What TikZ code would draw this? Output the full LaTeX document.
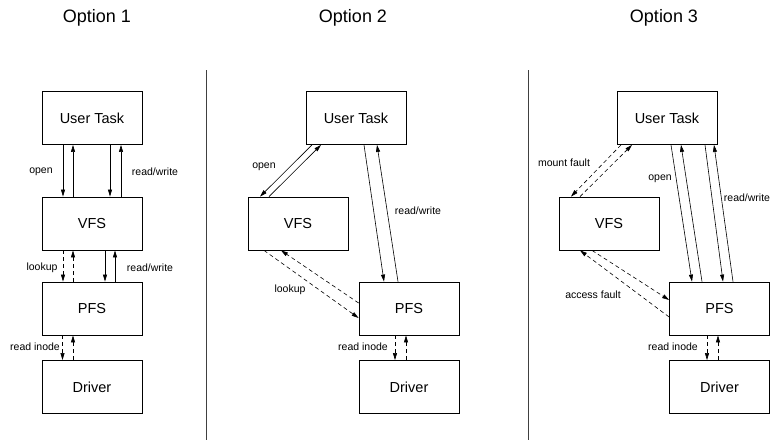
\documentclass[tikz,border=0pt]{standalone}
\usepackage{fontspec}
\setmainfont{Liberation Sans}
\usetikzlibrary{arrows.meta,positioning,calc}

\begin{document}
\begin{tikzpicture}[
    x=1pt, y=-1pt,
    box/.style={rectangle, draw, line width=0.8pt, minimum width=100pt, minimum height=53pt, inner sep=0pt, font=\fontsize{14.5}{16}\selectfont},
    arrow/.style={-{Triangle[length=7pt,width=4pt]}, line width=0.6pt},
    fault/.style={arrow, dash pattern=on 4pt off 3pt},
    lbl/.style={font=\fontsize{10.5}{12}\selectfont},
    title/.style={font=\fontsize{18}{20}\selectfont},
    sep/.style={line width=0.7pt, black!75}
]
    \useasboundingbox (0,0) rectangle (771,440);

    % Option 1
    \node[title] (t1) at (97,18) {Option 1};
    \node[box] (ut1) at (92,118) {User Task};
    \node[box] (vfs1) at (92,223.5) {VFS};
    \node[box] (pfs1) at (92,308.5) {PFS};
    \node[box] (drv1) at (92,387) {Driver};

    \draw[arrow] ([xshift=-29pt]ut1.south) -- ([xshift=-29pt]vfs1.north);
    \draw[arrow] ([xshift=-19pt]vfs1.north) -- ([xshift=-19pt]ut1.south);
    \draw[arrow] ([xshift=18pt]ut1.south) -- ([xshift=18pt]vfs1.north);
    \draw[arrow] ([xshift=29pt]vfs1.north) -- ([xshift=29pt]ut1.south);
    \draw[fault] ([xshift=-29pt]vfs1.south) -- ([xshift=-29pt]pfs1.north);
    \draw[fault] ([xshift=-19pt]pfs1.north) -- ([xshift=-19pt]vfs1.south);
    \draw[arrow] ([xshift=13pt]vfs1.south) -- ([xshift=13pt]pfs1.north);
    \draw[arrow] ([xshift=23pt]pfs1.north) -- ([xshift=23pt]vfs1.south);
    \draw[fault] ([xshift=-29.5pt]pfs1.south) -- ([xshift=-29.5pt]drv1.north);
    \draw[fault] ([xshift=-19pt]drv1.north) -- ([xshift=-19pt]pfs1.south);

    \node[lbl] (open1) at (41,172) {open};
    \node[lbl] (rw1) at (155,172) {read/write};
    \node[lbl] (look1) at (42,268) {lookup};
    \node[lbl] (rw1b) at (150,268) {read/write};
    \node[lbl] (ri1) at (35,347) {read inode};

    % separators
    \draw[sep] (206,70) -- (206,440);
    \draw[sep] (528,70) -- (528,440);

    % Option 2
    \node[title] (t2) at (353,18) {Option 2};
    \node[box] (ut2) at (356,118) {User Task};
    \node[box] (vfs2) at (298,223.5) {VFS};
    \node[box] (pfs2) at (409,308.5) {PFS};
    \node[box] (drv2) at (409,387) {Driver};

    \draw[arrow] ([xshift=-44pt]ut2.south) -- ([xshift=-38pt]vfs2.north);
    \draw[arrow] ([xshift=-29pt]vfs2.north) -- ([xshift=-35pt]ut2.south);
    \draw[arrow] ([xshift=8pt]ut2.south) -- ([xshift=-25pt]pfs2.north);
    \draw[arrow] ([xshift=-11pt]pfs2.north) -- ([xshift=21pt]ut2.south);
    \draw[fault] ([xshift=-34pt]vfs2.south) -- ([yshift=-9.5pt]pfs2.west);
    \draw[fault] ([yshift=5.5pt]pfs2.west) -- ([xshift=-17pt]vfs2.south);
    \draw[fault] ([xshift=-14pt]pfs2.south) -- ([xshift=-14pt]drv2.north);
    \draw[fault] ([xshift=-3pt]drv2.north) -- ([xshift=-3pt]pfs2.south);

    \node[lbl] (open2) at (264,167) {open};
    \node[lbl] (rw2) at (418,211) {read/write};
    \node[lbl] (look2) at (290,290) {lookup};
    \node[lbl] (ri2) at (363,347) {read inode};

    % Option 3
    \node[title] (t3) at (664,18) {Option 3};
    \node[box] (ut3) at (667,118) {User Task};
    \node[box] (vfs3) at (609,223.5) {VFS};
    \node[box] (pfs3) at (719.5,308.5) {PFS};
    \node[box] (drv3) at (719.5,387) {Driver};

    \draw[fault] ([xshift=-46pt]ut3.south) -- ([xshift=-38pt]vfs3.north);
    \draw[fault] ([xshift=-29pt]vfs3.north) -- ([xshift=-35pt]ut3.south);
    \draw[arrow] ([xshift=4pt]ut3.south) -- ([xshift=-27.5pt]pfs3.north);
    \draw[arrow] ([xshift=-17.5pt]pfs3.north) -- ([xshift=14pt]ut3.south);
    \draw[arrow] ([xshift=38pt]ut3.south) -- ([xshift=3.5pt]pfs3.north);
    \draw[arrow] ([xshift=13.5pt]pfs3.north) -- ([xshift=47pt]ut3.south);
    \draw[fault] ([xshift=-17pt]vfs3.south) -- ([yshift=8.5pt]pfs3.west);
    \draw[fault] ([yshift=-8.5pt]pfs3.west) -- ([xshift=-29pt]vfs3.south);
    \draw[fault] ([xshift=-12.5pt]pfs3.south) -- ([xshift=-12.5pt]drv3.north);
    \draw[fault] ([xshift=-1.5pt]drv3.north) -- ([xshift=-1.5pt]pfs3.south);

    \node[lbl] (mf3) at (564,163) {mount fault};
    \node[lbl] (open3) at (660,179) {open};
    \node[lbl] (rw3) at (747,198) {read/write};
    \node[lbl] (af3) at (593,295) {access fault};
    \node[lbl] (ri3) at (673,347) {read inode};
\end{tikzpicture}
\end{document}
